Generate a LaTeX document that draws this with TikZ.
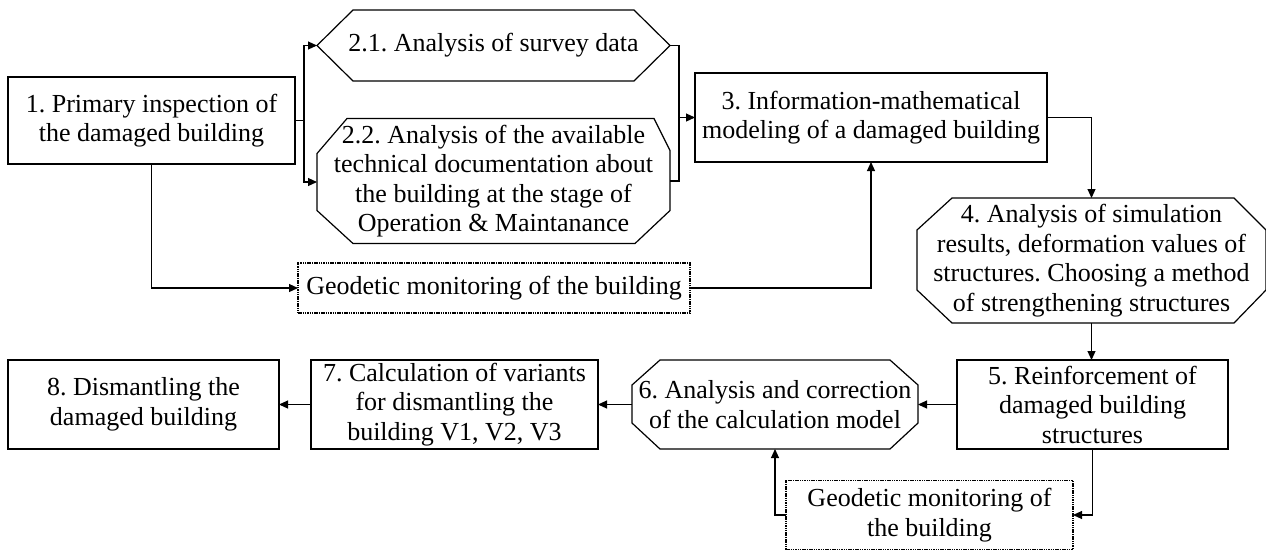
\documentclass[tikz,border=0pt]{standalone}
\usepackage{fontspec}
\setmainfont{Liberation Serif}
\usetikzlibrary{arrows.meta}
\frenchspacing
\tikzset{
  txt/.style={font=\fontsize{26}{29.5}\selectfont, align=center, inner sep=0pt, outer sep=0pt},
  plainbox/.style={txt, draw, line width=1.2pt},
  geobox/.style={txt, draw, line width=1.7pt, dash pattern=on 1.5pt off 0.8pt},
  shapebox/.style={txt},
  outline/.style={line width=1.2pt, line join=miter},
  conn/.style={line width=1.1pt},
  arr/.style={conn, -{Triangle[length=9pt,width=8pt]}}
}
\begin{document}
\begin{tikzpicture}[x=1pt,y=-1pt]
\useasboundingbox (0,0) rectangle (1266,550);
\fill[white] (0,0) rectangle (1266,550);

% nodes
\node[plainbox, minimum width=287pt, minimum height=87pt] (b1) at (151.5,120.5) {1. Primary inspection of\\the damaged building};
\node[shapebox, minimum width=353pt, minimum height=71pt] (h21) at (493.5,45.5) {2.1. Analysis of survey data};
\node[shapebox, minimum width=353pt, minimum height=125pt] (o22) at (493.5,181) {2.2. Analysis of the available\\technical documentation about\\the building at the stage of\\Operation \& Maintanance};
\node[plainbox, minimum width=352pt, minimum height=89pt] (b3) at (871,117.5) {3. Information-mathematical\\modeling of a damaged building};
\node[geobox, minimum width=392pt, minimum height=50pt] (g1) at (494,288) {Geodetic monitoring of the building};
\node[shapebox, minimum width=349pt, minimum height=125pt] (h4) at (1091.5,260.5) {4. Analysis of simulation\\results, deformation values of\\structures. Choosing a method\\of strengthening structures};
\node[plainbox, minimum width=271pt, minimum height=89pt] (b5) at (1092.5,404.5) {5. Reinforcement of\\damaged building\\structures};
\node[shapebox, minimum width=286pt, minimum height=89pt] (h6) at (775,404.5) {6. Analysis and correction\\of the calculation model};
\node[plainbox, minimum width=287pt, minimum height=89pt] (b7) at (454.5,404.5) {7. Calculation of variants\\for dismantling the\\building V1, V2, V3};
\node[plainbox, minimum width=271pt, minimum height=89pt] (b8) at (143.5,404.5) {8. Dismantling the\\damaged building};
\node[geobox, minimum width=287pt, minimum height=69pt] (g2) at (929.5,515) {Geodetic monitoring of\\the building};

% outlines of the cut-corner shapes
\draw[outline] ([xshift=36pt]h21.north west) -- ([xshift=-36pt]h21.north east) -- (h21.east)
  -- ([xshift=-36pt]h21.south east) -- ([xshift=36pt]h21.south west) -- (h21.west) -- cycle;
\draw[outline] ([xshift=30pt]o22.north west) -- ([xshift=-16pt]o22.north east) -- ([yshift=-32pt]o22.north east)
  -- ([yshift=33pt]o22.south east) -- ([xshift=-35pt]o22.south east) -- ([xshift=36pt]o22.south west)
  -- ([yshift=33pt]o22.south west) -- ([yshift=-35pt]o22.north west) -- cycle;
\draw[outline] ([xshift=35pt]h4.north west) -- ([xshift=-32pt]h4.north east) -- ([yshift=-32pt]h4.north east)
  -- ([yshift=33pt]h4.south east) -- ([xshift=-32pt]h4.south east) -- ([xshift=35pt]h4.south west)
  -- ([yshift=33pt]h4.south west) -- ([yshift=-32pt]h4.north west) -- cycle;
\draw[outline] ([xshift=28pt]h6.north west) -- ([xshift=-28pt]h6.north east) -- ([yshift=-25pt]h6.north east)
  -- ([yshift=26pt]h6.south east) -- ([xshift=-28pt]h6.south east) -- ([xshift=28pt]h6.south west)
  -- ([yshift=26pt]h6.south west) -- ([yshift=-25pt]h6.north west) -- cycle;

% junction coordinates
\coordinate (j1) at (304,120.5);
\coordinate (j2) at (679,117.5);

% connectors
\draw[conn] (b1.east) -- (j1);
\draw[arr] (j1) |- (h21.west);
\draw[arr] (j1) |- ([yshift=-1pt]o22.west);
\draw[conn] (h21.east) -| (j2) |- (o22.east);
\draw[arr] (j2) -- (b3.west);
\draw[arr] (b3.east) -| (h4.north);
\draw[arr] (b1.south) |- (g1.west);
\draw[arr] (g1.east) -| (b3.south);
\draw[arr] (h4.south) -- (b5.north -| h4.south);
\draw[arr] (b5.west) -- (h6.east);
\draw[arr] (h6.west) -- (b7.east);
\draw[arr] (b7.west) -- (b8.east);
\draw[arr] (b5.south) |- (g2.east);
\draw[arr] (g2.west) -| (h6.south);
\end{tikzpicture}
\end{document}
